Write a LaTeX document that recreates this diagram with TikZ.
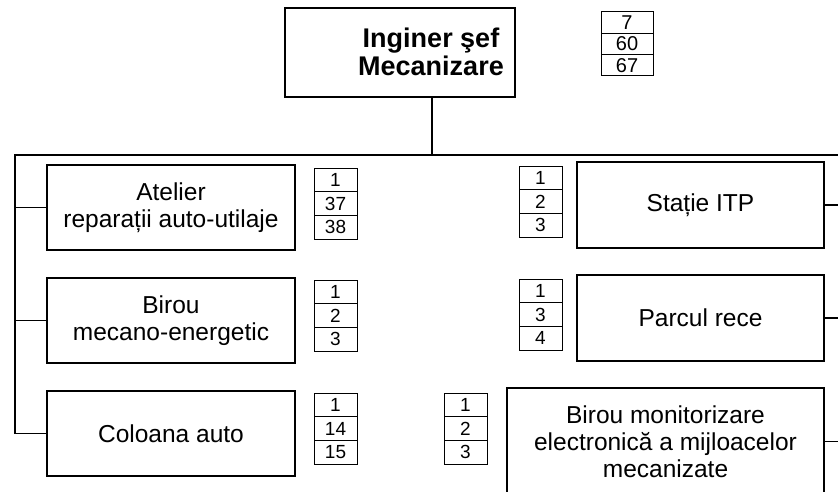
\documentclass[tikz,border=0pt]{standalone}
\usepackage{fontspec}
\setmainfont{Liberation Sans}
\usetikzlibrary{positioning}

\newcommand{\boxfont}{\fontsize{24.5}{27}\selectfont}
\newcommand{\cntfont}{\fontsize{19}{19}\selectfont}
% three stacked count cells: name, style, top centre, values
\newcommand{\cntstack}[6]{%
  \node[#2, anchor=north] (#1a) at #3 {#4};
  \node[#2, below=0pt of #1a] (#1b) {#5};
  \node[#2, below=0pt of #1b] (#1c) {#6};}

\begin{document}
\begin{tikzpicture}[
    x=1pt, y=-1pt,
    unit/.style={draw, line width=1.4pt, rectangle, align=center, font=\boxfont, inner sep=0pt, outer sep=0pt, minimum height=85pt},
    cnt/.style={draw, line width=0.8pt, rectangle, font=\cntfont, inner sep=0pt, outer sep=0pt, minimum width=43pt, minimum height=23.7pt},
    topcnt/.style={cnt, line width=1pt, font=\fontsize{20}{20}\selectfont, minimum width=52pt, minimum height=21.3pt},
    link/.style={line width=1.4pt},
]
    \useasboundingbox (0,0) rectangle (838,492);

    % Head
    \node[draw, line width=2.4pt, minimum width=230pt, minimum height=89pt, outer sep=0pt] (chief) at (400,52.5) {};
    \node[font=\fontsize{27}{28}\selectfont\bfseries, align=center] (chieftext) at (431,52) {Inginer şef\\Mecanizare};
    \cntstack{head}{topcnt}{(627,12)}{7}{60}{67}

    % Left column
    \node[unit, minimum width=248pt] (atelier) at (171,207.5) {Atelier\\reparații auto-utilaje};
    \node[unit, minimum width=248pt] (birou) at (171,320.5) {Birou\\mecano-energetic};
    \node[unit, minimum width=248pt] (coloana) at (171,433.5) {Coloana auto};
    \cntstack{atel}{cnt}{(335.5,168)}{1}{37}{38}
    \cntstack{bir}{cnt}{(335.5,280)}{1}{2}{3}
    \cntstack{col}{cnt}{(335.5,393)}{1}{14}{15}

    % Right column
    \node[unit, minimum width=247pt, minimum height=86pt] (itp) at (700.5,205) {Stație ITP};
    \node[unit, minimum width=247pt, minimum height=86pt] (parc) at (700.5,318) {Parcul rece};
    \node[unit, minimum width=317pt, minimum height=107pt] (monitor) at (665.5,441.5) {Birou monitorizare\\electronică a mijloacelor\\mecanizate};
    \cntstack{itpc}{cnt}{(540.5,166)}{1}{2}{3}
    \cntstack{parcc}{cnt}{(540.5,279)}{1}{3}{4}
    \cntstack{monc}{cnt}{(465.5,393)}{1}{2}{3}

    % Connectors
    \coordinate (drop) at (432,155);
    \coordinate (lbus) at (15,155);
    \coordinate (rbus) at (842,155);
    \draw[link] (drop |- chief.south) -- (drop);
    \draw[link] (rbus) -- (lbus) -- (lbus |- coloana.west) -- (coloana.west);
    \draw[link] (lbus |- atelier.west) -- (atelier.west);
    \draw[link] (lbus |- birou.west) -- (birou.west);
    \draw[link] (rbus) -- (rbus |- monitor.east) -- (monitor.east);
    \draw[link] (itp.east) -- (rbus |- itp.east);
    \draw[link] (parc.east) -- (rbus |- parc.east);

\end{tikzpicture}
\end{document}
